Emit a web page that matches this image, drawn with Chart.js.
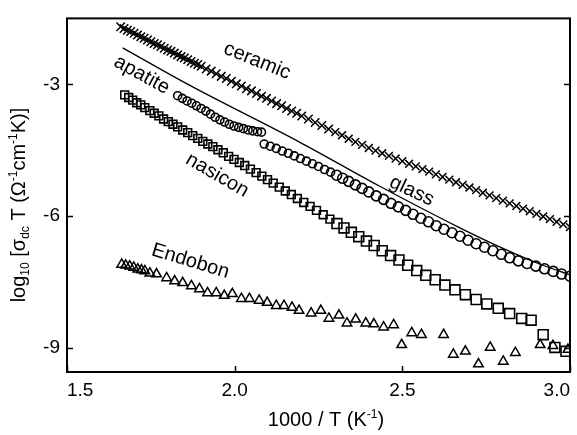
<!DOCTYPE html>
<html><head><meta charset="utf-8">
<script src="https://cdn.jsdelivr.net/npm/chart.js@4.4.1/dist/chart.umd.min.js"></script>
<style>html,body{margin:0;padding:0;background:#fff}canvas{display:block}</style>
</head><body>
<canvas id="c" width="577" height="435"></canvas>
<script>
// ---- tick labels ----
const xTicks = [1.5, 2.0, 2.5, 3.0];
const yTicks = [-3, -6, -9];

// ---- series: [1000/T, log10(sigma T)] ----
const ceramic = [
[1.66,-1.69],[1.67,-1.73],[1.68,-1.77],[1.69,-1.80],[1.70,-1.84],[1.71,-1.88],[1.72,-1.92],[1.73,-1.95],
[1.74,-1.99],[1.75,-2.03],[1.76,-2.07],[1.77,-2.10],[1.78,-2.14],[1.79,-2.18],[1.80,-2.22],[1.81,-2.25],
[1.82,-2.29],[1.83,-2.33],[1.84,-2.37],[1.85,-2.40],[1.86,-2.44],[1.87,-2.48],[1.88,-2.52],[1.89,-2.55],
[1.90,-2.59],[1.915,-2.65],[1.93,-2.70],[1.945,-2.76],[1.96,-2.82],[1.975,-2.87],[1.99,-2.93],[2.005,-2.99],
[2.02,-3.04],[2.035,-3.10],[2.05,-3.15],[2.065,-3.21],[2.08,-3.27],[2.095,-3.32],[2.11,-3.38],[2.125,-3.44],
[2.14,-3.49],[2.155,-3.55],[2.17,-3.61],[2.185,-3.66],[2.20,-3.72],[2.22,-3.79],[2.24,-3.87],[2.26,-3.94],
[2.28,-4.02],[2.30,-4.09],[2.32,-4.16],[2.34,-4.24],[2.36,-4.31],[2.38,-4.38],[2.40,-4.45],[2.42,-4.51],
[2.44,-4.57],[2.46,-4.63],[2.48,-4.69],[2.50,-4.75],[2.52,-4.81],[2.54,-4.87],[2.56,-4.93],[2.58,-4.99],
[2.60,-5.05],[2.62,-5.11],[2.64,-5.17],[2.66,-5.23],[2.68,-5.29],[2.70,-5.35],[2.72,-5.41],[2.74,-5.47],
[2.76,-5.53],[2.78,-5.59],[2.80,-5.65],[2.82,-5.71],[2.84,-5.77],[2.86,-5.83],[2.88,-5.89],[2.90,-5.95],
[2.92,-6.01],[2.94,-6.07],[2.96,-6.13],[2.98,-6.19],[3.00,-6.25]
];

const glass = [
[1.830,-3.26],[1.844,-3.32],[1.858,-3.38],[1.872,-3.43],[1.886,-3.49],[1.900,-3.55],[1.914,-3.61],[1.928,-3.68],
[1.942,-3.75],[1.956,-3.81],[1.970,-3.86],[1.984,-3.91],[1.998,-3.95],[2.012,-3.98],[2.026,-4.01],[2.040,-4.04],
[2.054,-4.06],[2.068,-4.08],[2.080,-4.09],
[2.088,-4.36],[2.106,-4.41],[2.124,-4.46],[2.142,-4.52],[2.160,-4.57],[2.178,-4.63],[2.196,-4.69],[2.214,-4.75],
[2.232,-4.81],[2.250,-4.87],[2.268,-4.94],[2.286,-5.00],[2.304,-5.07],[2.322,-5.14],[2.340,-5.21],[2.360,-5.29],
[2.380,-5.37],[2.400,-5.45],[2.422,-5.54],[2.444,-5.62],[2.466,-5.71],[2.488,-5.79],[2.510,-5.87],[2.532,-5.96],
[2.555,-6.05],[2.578,-6.13],[2.601,-6.22],[2.624,-6.30],[2.648,-6.38],[2.672,-6.46],[2.696,-6.55],[2.720,-6.63],
[2.745,-6.71],[2.770,-6.79],[2.795,-6.87],[2.820,-6.95],[2.846,-7.02],[2.872,-7.08],[2.898,-7.14],[2.924,-7.20],
[2.950,-7.26],[2.975,-7.32],[3.000,-7.37]
];

const glassFit = [
[1.666,-2.17],[1.865,-3.02],[2.192,-4.31],[2.430,-5.31],[2.667,-6.25],[2.807,-6.76],[2.905,-7.08],[3.000,-7.34]
];

const nasicon = [
[1.672,-3.24],[1.684,-3.30],[1.696,-3.36],[1.708,-3.42],[1.720,-3.47],[1.732,-3.53],[1.747,-3.60],[1.760,-3.66],
[1.774,-3.72],[1.788,-3.79],[1.802,-3.85],[1.816,-3.91],[1.830,-3.97],[1.845,-4.04],[1.860,-4.10],[1.875,-4.17],
[1.890,-4.23],[1.905,-4.30],[1.920,-4.36],[1.935,-4.42],[1.950,-4.49],[1.966,-4.56],[1.982,-4.64],[1.998,-4.71],
[2.014,-4.78],[2.030,-4.85],[2.047,-4.93],[2.064,-5.01],[2.081,-5.09],[2.098,-5.17],[2.115,-5.25],[2.133,-5.34],
[2.151,-5.43],[2.169,-5.51],[2.187,-5.60],[2.206,-5.69],[2.225,-5.78],[2.244,-5.87],[2.264,-5.97],[2.284,-6.07],
[2.305,-6.17],[2.326,-6.27],[2.348,-6.37],[2.370,-6.47],[2.393,-6.57],[2.416,-6.67],[2.440,-6.79],[2.465,-6.90],
[2.490,-7.00],[2.516,-7.12],[2.543,-7.24],[2.570,-7.35],[2.598,-7.45],[2.627,-7.57],[2.657,-7.68],[2.688,-7.79],
[2.720,-7.90],[2.752,-8.00],[2.786,-8.10],[2.820,-8.22],[2.856,-8.33],[2.884,-8.37],[2.920,-8.70],[2.955,-8.99],
[2.988,-9.08]
];

const endobon = [
[1.663,-7.10],[1.675,-7.12],[1.687,-7.14],[1.699,-7.17],[1.711,-7.21],[1.722,-7.23],[1.732,-7.25],[1.747,-7.30],
[1.767,-7.32],[1.797,-7.41],[1.821,-7.48],[1.845,-7.52],[1.871,-7.59],[1.895,-7.66],[1.919,-7.75],[1.945,-7.75],
[1.969,-7.81],[1.993,-7.77],[2.020,-7.88],[2.044,-7.88],[2.073,-7.92],[2.097,-7.97],[2.124,-8.04],[2.147,-8.04],
[2.171,-8.08],[2.192,-8.15],[2.228,-8.21],[2.257,-8.15],[2.281,-8.33],[2.311,-8.26],[2.335,-8.44],[2.361,-8.35],
[2.391,-8.44],[2.415,-8.46],[2.444,-8.53],[2.474,-8.48],[2.498,-8.93],[2.528,-8.66],[2.557,-8.70],[2.623,-8.70],
[2.652,-9.15],[2.688,-9.08],[2.727,-9.37],[2.762,-8.99],[2.801,-9.31],[2.837,-9.11],[2.911,-8.93],[2.949,-8.95],
[2.994,-9.04]
];

// ---- curve labels (text, position in data units, rotation deg) ----
const curveLabels = [
  {text:'ceramic', x:2.067, y:-2.47, rot:22},
  {text:'apatite', x:1.723, y:-2.79, rot:29},
  {text:'nasicon', x:1.948, y:-5.07, rot:30},
  {text:'glass',   x:2.528, y:-5.43, rot:25},
  {text:'Endobon', x:1.868, y:-7.03, rot:17}
];

const FONT = '"Liberation Sans", Arial, Helvetica, sans-serif';
const pts = arr => arr.map(p => ({x:p[0], y:p[1]}));

function drawRich(ctx, parts, cx, cy, size) {
  const fontFor = m => (m ? Math.round(size*0.62) : size) + 'px ' + FONT;
  let total = 0;
  const ws = parts.map(p => { ctx.font = fontFor(p[1]); const w = ctx.measureText(p[0]).width; total += w; return w; });
  let x = cx - total/2;
  const base = cy + size*0.35;
  ctx.textBaseline = 'alphabetic';
  ctx.textAlign = 'left';
  parts.forEach((p,i) => {
    ctx.font = fontFor(p[1]);
    const off = p[1] === 1 ? size*0.22 : (p[1] === 2 ? -size*0.42 : 0);
    ctx.fillText(p[0], x, base + off);
    x += ws[i];
  });
}

const decor = {
  id: 'decor',
  afterDatasetsDraw(chart) {
    const {ctx, chartArea: a, scales: {x, y}} = chart;
    ctx.save();
    ctx.strokeStyle = '#000';
    ctx.lineWidth = 2;
    ctx.strokeRect(a.left, a.top, a.right - a.left, a.bottom - a.top);
    ctx.lineWidth = 1.5;
    ctx.beginPath();
    yTicks.forEach(v => {
      const py = Math.round(y.getPixelForValue(v)) + 0.5;
      ctx.moveTo(a.left, py); ctx.lineTo(a.left + 6, py);
      ctx.moveTo(a.right, py); ctx.lineTo(a.right - 6, py);
    });
    xTicks.forEach(v => {
      const px = Math.round(x.getPixelForValue(v)) + 0.5;
      ctx.moveTo(px, a.bottom); ctx.lineTo(px, a.bottom - 6);
    });
    ctx.stroke();
    // curve labels
    ctx.fillStyle = '#000';
    ctx.font = '20px ' + FONT;
    ctx.textAlign = 'center';
    ctx.textBaseline = 'middle';
    curveLabels.forEach(l => {
      ctx.save();
      ctx.translate(x.getPixelForValue(l.x), y.getPixelForValue(l.y));
      ctx.rotate(l.rot * Math.PI / 180);
      ctx.fillText(l.text, 0, 0);
      ctx.restore();
    });
    // axis titles
    drawRich(ctx, [['1000 / T (K',0],['-1',2],[')',0]], 326, 419, 20);
    ctx.save();
    ctx.translate(18, 205);
    ctx.rotate(-Math.PI/2);
    drawRich(ctx, [['log',0],['10',1],[' [σ',0],['dc',1],[' T (Ω',0],['-1',2],['cm',0],['-1',2],['K)]',0]], 0, 0, 20);
    ctx.restore();
    ctx.restore();
  }
};

const open = 'rgba(0,0,0,0)';
new Chart(document.getElementById('c'), {
  type: 'scatter',
  data: {
    datasets: [
      {data: pts(glassFit), showLine: true, pointRadius: 0, borderColor: '#000', borderWidth: 1.3,
       cubicInterpolationMode: 'monotone', fill: false},
      {data: pts(ceramic), pointStyle: 'crossRot', borderColor: '#000', borderWidth: 1.5, backgroundColor: open,
       pointRadius: c => (c.raw && c.raw.x < 2.3 ? 6 : 5.5)},
      {data: pts(glass), pointStyle: 'circle', borderColor: '#000', borderWidth: 1.6, backgroundColor: open,
       pointRadius: c => (c.raw && c.raw.x < 2.3 ? 4 : 5)},
      {data: pts(nasicon), pointStyle: 'rect', borderColor: '#000', borderWidth: 1.6, backgroundColor: open,
       pointRadius: c => (c.raw && c.raw.x < 2.3 ? 5.5 : 7)},
      {data: pts(endobon), pointStyle: 'triangle', pointRadius: 5.5, borderColor: '#000', borderWidth: 1.5, backgroundColor: open}
    ]
  },
  options: {
    responsive: false,
    animation: false,
    devicePixelRatio: 1,
    layout: {padding: {top: 12, right: 5, left: 0, bottom: 0}, autoPadding: false},
    plugins: {legend: {display: false}, tooltip: {enabled: false}},
    elements: {point: {hoverRadius: 0}},
    scales: {
      x: {
        type: 'linear', min: 1.5, max: 3.0,
        afterBuildTicks: s => { s.ticks = xTicks.map(v => ({value: v})); },
        afterFit: s => { s.height = 63; },
        grid: {display: false, drawTicks: false},
        border: {display: false},
        ticks: {color: '#000', font: {family: FONT, size: 19}, padding: 7, align: 'inner',
                maxRotation: 0, callback: v => v.toFixed(1)}
      },
      y: {
        type: 'linear', min: -9.55, max: -1.5,
        afterBuildTicks: s => { s.ticks = yTicks.map(v => ({value: v})); },
        afterFit: s => { s.width = 67; },
        grid: {display: false, drawTicks: false},
        border: {display: false},
        ticks: {color: '#000', font: {family: FONT, size: 19}, padding: 7, callback: v => String(v)}
      }
    }
  },
  plugins: [decor]
});
</script>
</body></html>
